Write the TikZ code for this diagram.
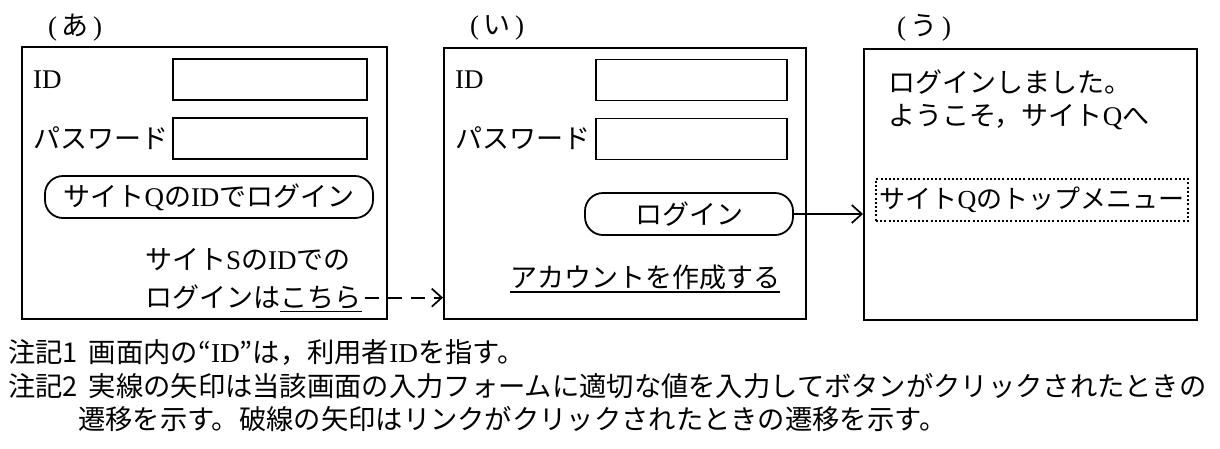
\documentclass[tikz,border=0pt]{standalone}
\usepackage{fontspec}
\setmainfont{Noto Sans CJK JP}
\newfontfamily\latfont{Liberation Serif}
\newcommand\lat[1]{{\latfont #1}}
\usetikzlibrary{arrows.meta}
\begin{document}
\begin{tikzpicture}[x=1pt,y=-1pt,
 screen/.style={draw,line width=1.9pt,inner sep=0pt},
 field/.style={draw,line width=1.8pt,inner sep=0pt,minimum width=194pt,minimum height=41pt},
 btn/.style={draw,line width=1.8pt,rounded corners=18pt,inner sep=0pt,font=\fontsize{27}{30}\selectfont},
 txt/.style={inner sep=0pt,anchor=west,font=\fontsize{27}{30}\selectfont},
 lbl/.style={inner sep=0pt,font=\fontsize{27}{30}\selectfont},
 note/.style={inner sep=0pt,anchor=west,font=\fontsize{27.3}{30}\selectfont},
 arr/.style={line width=1.7pt,-{Straight Barb[length=10pt,width=18pt,line width=1.7pt]}}]
\useasboundingbox (0,0) rectangle (1220,448);
% screens
\node[screen,minimum width=365pt,minimum height=272pt] (A) at (204.5,183) {};
\node[screen,minimum width=362pt,minimum height=271pt] (B) at (625,183.5) {};
\node[screen,minimum width=333pt,minimum height=271pt] (C) at (1030.5,184.5) {};
% labels
\node[lbl] (la) at (75,28) {\lat{(}\,あ\,\lat{)}};
\node[lbl] (lb) at (497,28) {\lat{(}\,い\,\lat{)}};
\node[lbl] (lc) at (924,28) {\lat{(}\,う\,\lat{)}};
% screen A
\node[txt] (aid) at (33,80) {\lat{ID}};
\node[field] (aidf) at (270,79.5) {};
\node[txt] (apw) at (33,138) {パスワード};
\node[field] (apwf) at (270,138.5) {};
\node[btn,minimum width=328pt,minimum height=42pt] (abtn) at (209,197) {サイト\lat{Q}の\lat{ID}でログイン};
\node[txt] (as1) at (145,260) {サイト\lat{S}の\lat{ID}での};
\node[txt] (as2) at (145,297) {ログインは};
\node[inner sep=0pt,anchor=base west,font=\fontsize{27}{30}\selectfont] (kochira) at (as2.base east) {こちら};
\draw[line width=1.4pt] ([yshift=-4pt]kochira.base west) -- ([yshift=-4pt]kochira.base east);
% screen B
\node[txt] (bid) at (455,80) {\lat{ID}};
\node[field,minimum width=191pt] (bidf) at (691.5,80) {};
\node[txt] (bpw) at (455,138) {パスワード};
\node[field,minimum width=191pt] (bpwf) at (691.5,139) {};
\node[btn,minimum width=208pt,minimum height=42pt] (bbtn) at (689,214) {ログイン};
\node[txt] (bacc) at (510,277) {アカウントを作成する};
\draw[line width=1.4pt] ([yshift=-5pt]bacc.base west) -- ([yshift=-5pt]bacc.base east);
% screen C
\node[txt] (c1) at (888,82) {ログインしました。};
\node[txt] (c2) at (888,117) {ようこそ，サイト\lat{Q}へ};
\node[draw,dash pattern=on 2pt off 2.2pt,line width=1.8pt,inner sep=0pt,minimum width=312pt,minimum height=42pt,font=\fontsize{26}{30}\selectfont] (cmenu) at (1032,200) {サイト\lat{Q}のトップメニュー};
% arrows
\draw[arr,dash pattern=on 14pt off 9pt] ([xshift=3pt]kochira.east) -- (kochira.east -| B.west);
\draw[arr] (bbtn.east) -- (bbtn.east -| C.west);
% notes
\node[note] (n1) at (8,352) {注記1\hspace{0.4em}画面内の“\lat{ID}”は，利用者\lat{ID}を指す。};
\node[note] (n2) at (8,386) {注記2\hspace{0.4em}実線の矢印は当該画面の入力フォームに適切な値を入力してボタンがクリックされたときの};
\node[note] (n3) at (78,419) {遷移を示す。破線の矢印はリンクがクリックされたときの遷移を示す。};
\end{tikzpicture}
\end{document}
